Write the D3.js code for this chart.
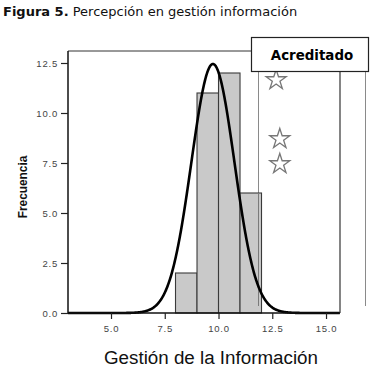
<!DOCTYPE html>
<html><head><meta charset="utf-8">
<script src="https://cdn.jsdelivr.net/npm/d3@7/dist/d3.min.js"></script>
<style>body{margin:0;background:#fff}svg{display:block}</style>
</head><body>
<script>
// ---- data ----
const binStarts = [8, 9, 10, 11];
const binCounts = [2, 11, 12, 6];
const binWidth = 1;
const curveMean = 9.74;
const curveSD = 1.0;
const curvePeak = 12.45;
const xTicks = [5.0, 7.5, 10.0, 12.5, 15.0];
const yTicks = [0.0, 2.5, 5.0, 7.5, 10.0, 12.5];
const starX = [12.68, 12.85, 12.85];
const starY = [11.65, 8.7, 7.45];
const legendLabel = "Acreditado";
const titleBold = "Figura 5.";
const titleRest = " Percepción en gestión información";
const xLabel = "Gestión de la Información";
const yLabel = "Frecuencia";

const W = 378, H = 370;
const svg = d3.select("body").append("svg").attr("width", W).attr("height", H);
const L = 68, R = 340, T = 51, B = 313;
const x = d3.scaleLinear().domain([3, 15.65]).range([L, R]);
const y = d3.scaleLinear().domain([0, 13.1]).range([B, T]);

// title
const tt = svg.append("text").attr("x", 3).attr("y", 16)
  .attr("font-family", "DejaVu Sans").attr("font-size", 13).attr("fill", "#111");
tt.append("tspan").attr("font-weight", "bold").text(titleBold);
tt.append("tspan").text(titleRest);

// vertical reference lines on the right
const vlines = [{x: 258.5, c: "#8a8a8a"}, {x: 365.5, c: "#8a8a8a"}];
svg.selectAll(".vl").data(vlines).enter().append("line")
  .attr("x1", d => d.x).attr("x2", d => d.x).attr("y1", 72).attr("y2", 306)
  .attr("stroke", d => d.c).attr("stroke-width", 1);

// bars
svg.selectAll(".bar").data(binStarts).enter().append("rect")
  .attr("x", (d) => x(d)).attr("width", (d) => x(d + binWidth) - x(d))
  .attr("y", (d, i) => y(binCounts[i])).attr("height", (d, i) => B - y(binCounts[i]))
  .attr("fill", "#c9c9c9").attr("stroke", "#3a3a3a").attr("stroke-width", 1.1);

// gray line partially visible over the bar
svg.append("line").attr("x1", 258.5).attr("x2", 258.5).attr("y1", y(binCounts[3])).attr("y2", 306)
  .attr("stroke", "#7a7a7a").attr("stroke-width", 1);

// normal curve
const xs = d3.range(3, 15.65, 0.02);
const line = d3.line().x(d => x(d)).y(d => y(curvePeak * Math.exp(-0.5 * Math.pow((d - curveMean) / curveSD, 2)))).curve(d3.curveBasis);
svg.append("path").datum(xs).attr("d", line).attr("fill", "none")
  .attr("stroke", "#000").attr("stroke-width", 2.6);

// frame
svg.append("line").attr("x1", L).attr("x2", 252).attr("y1", T).attr("y2", T).attr("stroke", "#333").attr("stroke-width", 1);
svg.append("line").attr("x1", R).attr("x2", R).attr("y1", 72).attr("y2", B).attr("stroke", "#333").attr("stroke-width", 1.2);

// axes
const xAxis = d3.axisBottom(x).tickValues(xTicks).tickFormat(d3.format(".1f")).tickSize(6).tickSizeOuter(0);
const gx = svg.append("g").attr("transform", `translate(0,${B})`).call(xAxis);
gx.select(".domain").attr("stroke", "#111").attr("stroke-width", 1.5).attr("d", `M${L},0H${R}`);
gx.selectAll(".tick line").attr("stroke", "#222").attr("stroke-width", 1.2);
gx.selectAll(".tick text").attr("font-family", "Liberation Sans").attr("font-size", 9.5)
  .attr("letter-spacing", "0.8px").attr("fill", "#444").attr("dy", "1.05em");

const yAxis = d3.axisLeft(y).tickValues(yTicks).tickFormat(d3.format(".1f")).tickSize(7).tickSizeOuter(0);
const gy = svg.append("g").attr("transform", `translate(${L},0)`).call(yAxis);
gy.select(".domain").attr("stroke", "#111").attr("stroke-width", 1.5).attr("d", `M0,${T}V${B}`);
gy.selectAll(".tick line").attr("stroke", "#222").attr("stroke-width", 1.2);
gy.selectAll(".tick text").attr("font-family", "Liberation Sans").attr("font-size", 9.5)
  .attr("letter-spacing", "0.8px").attr("fill", "#444").attr("x", -10);

// stars
const star = d3.symbol().type(d3.symbolStar).size(125);
svg.selectAll(".star").data(starX).enter().append("path")
  .attr("d", star).attr("transform", (d, i) => `translate(${x(d)},${y(starY[i])})`)
  .attr("fill", "#fff").attr("stroke", "#777").attr("stroke-width", 1.3);

// legend box
svg.append("rect").attr("x", 251.5).attr("y", 37.5).attr("width", 117).attr("height", 34)
  .attr("fill", "#fff").attr("stroke", "#222").attr("stroke-width", 1.2);
svg.append("text").attr("x", 312).attr("y", 59.5).attr("text-anchor", "middle")
  .attr("font-family", "DejaVu Sans").attr("font-weight", "bold").attr("font-size", 13.4)
  .attr("fill", "#000").text(legendLabel);

// axis labels
svg.append("text").attr("x", 211).attr("y", 364).attr("text-anchor", "middle")
  .attr("font-family", "Liberation Sans").attr("font-size", 18.8).attr("fill", "#111").text(xLabel);
svg.append("text").attr("transform", "translate(27,187) rotate(-90) scale(0.88,1)").attr("text-anchor", "middle")
  .attr("font-family", "Liberation Sans").attr("font-weight", "bold").attr("font-size", 13.5)
  .attr("fill", "#111").text(yLabel);
</script>
</body></html>
